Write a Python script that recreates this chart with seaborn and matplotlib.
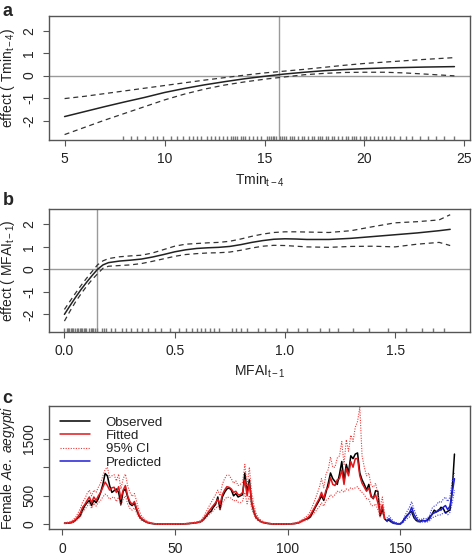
import numpy as np
import pandas as pd
import seaborn as sns
from matplotlib import pyplot as plt

# ---- panel a: smooth effect of Tmin(t-4)
tmin_x = [5, 6, 7, 8, 9, 10, 11, 12, 13, 14, 15, 16, 17, 18, 19, 20, 21, 22, 23, 24.5]
tmin_fit = [-1.82, -1.60, -1.38, -1.17, -0.97, -0.75, -0.57, -0.41, -0.27, -0.14, -0.03,
            0.07, 0.15, 0.22, 0.27, 0.31, 0.34, 0.36, 0.38, 0.40]
tmin_hi = [-1.02, -0.92, -0.80, -0.68, -0.56, -0.44, -0.32, -0.20, -0.09, 0.02, 0.12,
           0.20, 0.28, 0.37, 0.46, 0.54, 0.60, 0.66, 0.72, 0.80]
tmin_lo = [-2.62, -2.30, -1.98, -1.68, -1.38, -1.08, -0.82, -0.60, -0.42, -0.28, -0.16,
           -0.06, 0.04, 0.10, 0.14, 0.15, 0.15, 0.12, 0.07, -0.01]
tmin_rug = [7.9, 8.3, 8.6, 9.0, 9.4, 9.6, 9.9, 10.3, 10.6, 10.9, 11.2, 11.4, 11.6, 11.8,
            12.1, 12.3, 12.5, 12.7, 12.9, 13.1, 13.3, 13.4, 13.5, 13.6, 13.8, 13.9, 14.0,
            14.2, 14.4, 14.6, 14.8, 15.1, 15.2, 15.3, 15.4, 15.5, 15.6, 15.8, 15.9, 16.0,
            16.1, 16.3, 16.4, 16.5, 16.7, 16.9, 17.0, 17.2, 17.4, 17.5, 17.7, 17.8, 17.9,
            18.1, 18.2, 18.4, 18.5, 18.7, 18.9, 19.1, 19.2, 19.4, 19.5, 19.6, 19.8, 20.0,
            20.1, 20.3, 20.5, 20.7, 20.9, 21.1, 21.3, 21.5, 21.8, 22.1, 22.4, 22.8, 23.2,
            23.6, 24.0, 24.5]
tmin_ref = 15.72

# ---- panel b: smooth effect of MFAI(t-1)
mfai_x = [0.0, 0.025, 0.05, 0.075, 0.10, 0.125, 0.15, 0.175, 0.20, 0.25, 0.30, 0.35, 0.40,
          0.45, 0.50, 0.55, 0.60, 0.65, 0.70, 0.75, 0.80, 0.85, 0.90, 0.95, 1.00, 1.05,
          1.10, 1.20, 1.30, 1.40, 1.50, 1.60, 1.70, 1.75]
mfai_fit = [-2.00, -1.62, -1.25, -0.90, -0.58, -0.28, 0.00, 0.20, 0.30, 0.37, 0.41, 0.46,
            0.55, 0.66, 0.78, 0.87, 0.93, 0.96, 0.98, 1.02, 1.10, 1.20, 1.28, 1.34, 1.36,
            1.35, 1.33, 1.33, 1.38, 1.46, 1.54, 1.62, 1.72, 1.78]
mfai_hi = [-1.78, -1.42, -1.06, -0.72, -0.40, -0.10, 0.20, 0.38, 0.48, 0.56, 0.60, 0.63,
           0.73, 0.88, 1.03, 1.12, 1.15, 1.18, 1.20, 1.25, 1.35, 1.47, 1.57, 1.64, 1.67,
           1.67, 1.66, 1.64, 1.72, 1.90, 2.07, 2.12, 2.20, 2.43]
mfai_lo = [-2.30, -1.86, -1.45, -1.09, -0.76, -0.46, -0.20, 0.05, 0.14, 0.17, 0.20, 0.26,
           0.36, 0.47, 0.58, 0.66, 0.70, 0.73, 0.74, 0.77, 0.85, 0.95, 1.03, 1.07, 1.06,
           1.03, 1.00, 0.98, 1.02, 1.03, 1.00, 1.12, 1.20, 1.06]
mfai_rug = [0.0, 0.01, 0.015, 0.02, 0.03, 0.035, 0.04, 0.05, 0.055, 0.06, 0.07, 0.075,
            0.08, 0.09, 0.095, 0.10, 0.11, 0.12, 0.125, 0.13, 0.14, 0.15, 0.17, 0.18,
            0.19, 0.21, 0.23, 0.26, 0.28, 0.30, 0.33, 0.35, 0.38, 0.41, 0.44, 0.48, 0.52,
            0.55, 0.58, 0.60, 0.62, 0.64, 0.66, 0.68, 0.70, 0.76, 0.78, 0.80, 0.83, 0.88,
            0.91, 0.96, 1.01, 1.06, 1.10, 1.16, 1.20, 1.24, 1.31, 1.38, 1.47, 1.55, 1.62,
            1.67, 1.72]
mfai_ref = 0.15

# ---- panel c: weekly female Ae. aegypti counts (weeks 1..174)
observed = [25, 20, 25, 30, 45, 80, 120, 150, 250, 330, 380, 420, 330, 420, 380, 450, 560, 700,
            890, 850, 680, 560, 590, 620, 560, 350, 580, 620, 480, 360, 330, 370, 250, 150,
            100, 70, 45, 30, 20, 15,
            10, 8, 6, 5, 5, 4, 4, 4, 5, 5, 6, 6, 8, 10, 12, 15, 18, 22, 28, 35,
            40, 60, 100, 150, 200, 230, 300, 350, 480, 260, 480, 560, 620, 640, 600, 500, 540,
            480, 500, 520, 900, 560, 780, 380, 220, 120, 80, 50, 35, 25,
            18, 14, 10, 8, 7, 6, 6, 6, 7, 8, 10, 12, 15, 20, 30,
            50, 70, 90, 100, 130, 200, 280, 350, 420, 500, 420, 560, 720, 900, 800, 750, 700,
            880, 1100, 760, 1050, 900, 1200, 1150, 1230, 1250, 900, 780, 700, 600, 700, 500,
            450, 590, 580, 150, 260, 100,
            60, 80, 40, 20, 15, 10, 10, 50, 110, 160, 200, 230, 120, 70, 50, 60, 70, 60, 80,
            130, 170, 250, 220, 240, 300, 280, 200, 230, 250, 600, 1230]
fitted = [20, 25, 30, 40, 60, 90, 140, 200, 300, 350, 420, 480, 380, 480, 420, 500, 560, 650,
          740, 680, 600, 640, 650, 560, 660, 450, 600, 680, 500, 400, 350, 400, 280, 170,
          110, 80, 50, 35, 25, 18,
          12, 9, 7, 6, 5, 5, 5, 5, 5, 6, 7, 7, 9, 11, 13, 16, 20, 25, 30, 38,
          45, 70, 120, 170, 230, 280, 330, 380, 440, 350, 520, 600, 660, 650, 620, 560, 580,
          520, 520, 560, 780, 500, 720, 400, 240, 130, 85, 55, 38, 28,
          20, 15, 11, 9, 8, 7, 7, 7, 8, 9, 11, 13, 17, 24, 35,
          55, 75, 95, 120, 160, 230, 300, 380, 450, 560, 450, 600, 650, 820, 700, 680, 780,
          800, 950, 700, 980, 850, 1100, 1000, 1150, 1150, 850, 720, 650, 580, 640, 480,
          460, 520, 380, 200, 340, 120]
fit_hi = [30, 35, 45, 60, 90, 130, 200, 280, 390, 450, 540, 600, 500, 600, 560, 650, 720, 850,
          960, 1000, 820, 850, 870, 760, 880, 620, 800, 880, 680, 560, 490, 540, 400, 250,
          160, 115, 75, 50, 35, 25,
          17, 13, 10, 8, 7, 7, 7, 7, 7, 8, 10, 10, 13, 15, 18, 22, 28, 35, 42, 52,
          60, 95, 160, 230, 310, 380, 450, 520, 600, 500, 700, 800, 860, 860, 800, 720, 760,
          680, 700, 740, 1050, 680, 1000, 560, 340, 190, 120, 80, 55, 40,
          28, 21, 16, 13, 11, 10, 10, 10, 11, 13, 15, 18, 24, 33, 48,
          75, 100, 130, 165, 220, 320, 420, 530, 640, 800, 640, 880, 960, 1180, 1000, 1000,
          1160, 1200, 1450, 1050, 1480, 1280, 1560, 1450, 1700, 1800, 2050, 1200, 1000, 850,
          900, 680, 650, 720, 540, 300, 480, 180]
fit_lo = [12, 18, 22, 28, 40, 60, 95, 140, 220, 260, 320, 370, 280, 370, 320, 380, 420, 480,
          530, 500, 440, 470, 480, 400, 480, 320, 440, 500, 360, 280, 250, 290, 200, 120,
          75, 55, 35, 25, 18, 12,
          8, 6, 5, 4, 3, 3, 3, 3, 3, 4, 5, 5, 6, 8, 9, 11, 14, 17, 21, 27,
          32, 50, 85, 120, 165, 200, 240, 280, 320, 250, 380, 430, 480, 470, 460, 410, 430,
          390, 380, 410, 560, 360, 510, 280, 170, 90, 60, 40, 27, 20,
          14, 10, 8, 6, 5, 5, 5, 5, 5, 6, 8, 9, 12, 17, 25,
          40, 55, 70, 85, 115, 165, 210, 260, 310, 380, 320, 420, 450, 520, 480, 520, 580,
          560, 600, 560, 620, 600, 640, 620, 640, 660, 600, 560, 520, 450, 440, 340, 320, 360,
          260, 130, 220, 80]
predicted = [70, 100, 60, 30, 20, 10, 10, 40, 100, 150, 200, 300, 180, 110, 60, 50, 70, 60,
             70, 100, 180, 200, 220, 260, 250, 300, 330, 260, 320, 550, 800]
pred_hi = [110, 150, 95, 55, 35, 20, 20, 65, 150, 230, 300, 400, 270, 170, 95, 80, 110, 95,
           110, 160, 280, 320, 340, 400, 380, 440, 480, 400, 480, 760, 900]
pred_lo = [45, 65, 40, 18, 12, 6, 6, 25, 65, 100, 130, 200, 120, 70, 40, 32, 45, 38, 45, 65,
           120, 130, 150, 170, 165, 200, 220, 170, 210, 380, 600]

weeks = np.arange(1, len(observed) + 1)
fit_weeks = np.arange(1, len(fitted) + 1)
pred_weeks = np.arange(len(fitted) + 1, len(observed) + 1)

sns.set_style("ticks")
plt.rcParams["font.family"] = ["Liberation Sans", "DejaVu Sans"]
plt.rcParams["mathtext.fontset"] = "custom"
plt.rcParams["mathtext.rm"] = "Liberation Sans"
plt.rcParams["mathtext.it"] = "Liberation Sans:italic"
plt.rcParams["axes.unicode_minus"] = False

BOX = "#555555"
REF = "#9a9a9a"
TXT = "#222222"

fig = plt.figure(figsize=(4.72, 5.57), dpi=100)
ax_a = fig.add_axes([0.1038, 0.7487, 0.892, 0.2226])
ax_b = fig.add_axes([0.1038, 0.4045, 0.892, 0.2197])
ax_c = fig.add_axes([0.1038, 0.0497, 0.892, 0.2214])


def r_box(ax):
    for s in ax.spines.values():
        s.set_visible(True)
        s.set_color(BOX)
        s.set_linewidth(1.0)
    ax.tick_params(direction="out", length=4, width=0.8, color=BOX,
                   labelsize=10, labelcolor=TXT, pad=5)
    plt.setp(ax.get_yticklabels(), rotation=90, va="center")


def smooth_panel(ax, x, fit, lo, hi, rug, ref):
    ax.axhline(0, color=REF, lw=1.0, zorder=1)
    ax.axvline(ref, color=REF, lw=1.0, zorder=1)
    sns.lineplot(x=x, y=fit, ax=ax, color="#222222", lw=1.1)
    sns.lineplot(x=x, y=hi, ax=ax, color="#333333", lw=0.9, linestyle=(0, (4, 3)))
    sns.lineplot(x=x, y=lo, ax=ax, color="#333333", lw=0.9, linestyle=(0, (4, 3)))
    sns.rugplot(x=rug, ax=ax, height=0.03, color="#777777", lw=0.5)


# panel a
smooth_panel(ax_a, tmin_x, tmin_fit, tmin_lo, tmin_hi, tmin_rug, tmin_ref)
ax_a.set_xlim(4.22, 25.28)
ax_a.set_ylim(-2.86, 2.65)
ax_a.set_xticks([5, 10, 15, 20, 25])
ax_a.set_yticks([-2, -1, 0, 1, 2])
ax_a.set_xlabel(r"Tmin$_{\rm t-4}$", fontsize=10, color=TXT, labelpad=4)
ax_a.set_ylabel(r"effect ( Tmin$_{\rm t-4}$)", fontsize=10, color=TXT, labelpad=4)
r_box(ax_a)

# panel b
smooth_panel(ax_b, mfai_x, mfai_fit, mfai_lo, mfai_hi, mfai_rug, mfai_ref)
ax_b.set_xlim(-0.07, 1.84)
ax_b.set_ylim(-2.77, 2.67)
ax_b.set_xticks([0, 0.5, 1.0, 1.5])
ax_b.set_xticklabels(["0.0", "0.5", "1.0", "1.5"])
ax_b.set_yticks([-2, -1, 0, 1, 2])
ax_b.set_xlabel(r"MFAI$_{\rm t-1}$", fontsize=10, color=TXT, labelpad=4)
ax_b.set_ylabel(r"effect ( MFAI$_{\rm t-1}$)", fontsize=10, color=TXT, labelpad=4)
r_box(ax_b)

# panel c
sns.lineplot(x=weeks, y=observed, ax=ax_c, color="black", lw=1.1, label="Observed")
sns.lineplot(x=fit_weeks, y=fitted, ax=ax_c, color="#e0161b", lw=1.1, label="Fitted")
sns.lineplot(x=fit_weeks, y=fit_hi, ax=ax_c, color="#f03a3a", lw=0.8,
             linestyle=(0, (1, 1.3)), label="95% CI")
sns.lineplot(x=fit_weeks, y=fit_lo, ax=ax_c, color="#f03a3a", lw=0.8,
             linestyle=(0, (1, 1.3)))
sns.lineplot(x=pred_weeks, y=predicted, ax=ax_c, color="#1f1fd6", lw=1.1, label="Predicted")
sns.lineplot(x=pred_weeks, y=pred_hi, ax=ax_c, color="#3a3ae8", lw=0.8,
             linestyle=(0, (1, 1.3)))
sns.lineplot(x=pred_weeks, y=pred_lo, ax=ax_c, color="#3a3ae8", lw=0.8,
             linestyle=(0, (1, 1.3)))
ax_c.set_xlim(-5.9, 180.9)
ax_c.set_ylim(-85, 2070)
ax_c.set_xticks([0, 50, 100, 150])
ax_c.set_yticks([0, 500, 1000, 1500])
ax_c.set_yticklabels(["0", "500", "", "1500"])
ax_c.set_xlabel("")
ax_c.set_ylabel(r"Female $\it{Ae.\ aegypti}$", fontsize=10, color=TXT, labelpad=4)
leg = ax_c.legend(loc="upper left", frameon=False, fontsize=9.5, handlelength=2.3,
                  labelspacing=0.08, borderaxespad=0.4, handletextpad=1.2)
for t in leg.get_texts():
    t.set_color(TXT)
r_box(ax_c)

# panel letters
for letter, ypos in [("a", 0.995), ("b", 0.655), ("c", 0.300)]:
    fig.text(0.005, ypos, letter, fontsize=13, fontweight="bold", va="top", ha="left")

fig.savefig("out.png", dpi=100)
